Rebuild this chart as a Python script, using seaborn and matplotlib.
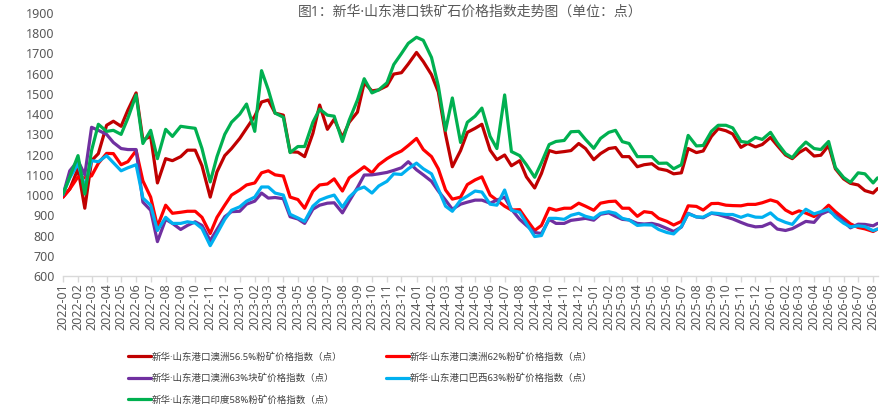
import pandas as pd
import matplotlib
matplotlib.use('Agg')
import matplotlib.pyplot as plt
import matplotlib.dates as mdates
from matplotlib.lines import Line2D
import seaborn as sns

# semi-monthly sample points, last one is the latest print
dates = list(pd.date_range('2022-01-01', periods=111, freq='SMS')) + [pd.Timestamp('2026-08-10')]

series_names = [
    '新华·山东港口澳洲56.5%粉矿价格指数（点）',
    '新华·山东港口澳洲62%粉矿价格指数（点）',
    '新华·山东港口澳洲63%块矿价格指数（点）',
    '新华·山东港口巴西63%粉矿价格指数（点）',
    '新华·山东港口印度58%粉矿价格指数（点）',
]
colors = ['#C00000', '#FF0000', '#7030A0', '#00B0F0', '#00B050']

aus_565 = [
    990, 1030, 1130, 935, 1170, 1205, 1345, 1365, 1340, 1420, 1505, 1272,
    1290, 1060, 1180, 1170, 1190, 1222, 1222, 1145, 990, 1115, 1195, 1230,
    1280, 1330, 1390, 1460, 1470, 1405, 1395, 1214, 1212, 1190, 1305, 1445,
    1325, 1375, 1285, 1360, 1410, 1555, 1515, 1520, 1540, 1598, 1605, 1648,
    1705, 1660, 1595, 1510, 1300, 1140, 1220, 1310, 1330, 1350, 1222, 1175,
    1198, 1145, 1170, 1090, 1035, 1107, 1220, 1210, 1215, 1220, 1255, 1230,
    1175, 1205, 1230, 1235, 1190, 1190, 1140, 1150, 1155, 1130, 1122, 1105,
    1110, 1230, 1210, 1218, 1290, 1328, 1318, 1302, 1236, 1255, 1238, 1250,
    1285, 1245, 1198, 1180, 1210, 1230, 1193, 1197, 1245, 1130, 1080, 1058,
    1050, 1022, 1010, 1032,
]
aus_62 = [
    990, 1030, 1090, 1085, 1095, 1157, 1206, 1205, 1150, 1165, 1220, 1070,
    990, 845, 950, 910, 915, 920, 920, 890, 810, 890, 950, 1000,
    1025, 1050, 1060, 1110, 1120, 1100, 1094, 990, 978, 935, 1018, 1050,
    1055, 1080, 1020, 1085, 1115, 1140, 1110, 1150, 1180, 1200, 1218, 1245,
    1280, 1225, 1190, 1130, 1025, 980, 990, 1052, 1075, 1090, 1000, 975,
    945, 926, 928, 880, 825, 850, 935, 925, 935, 935, 960, 945,
    925, 960, 968, 970, 935, 935, 895, 918, 913, 885, 870, 852,
    870, 947, 944, 926, 958, 959, 950, 948, 947, 954, 954, 962,
    976, 966, 926, 908, 922, 911, 894, 914, 950, 918, 885, 858,
    840, 833, 820, 832,
]
aus_63_lump = [
    1000, 1120, 1170, 1100, 1335, 1320, 1300, 1260, 1230, 1225, 1225, 965,
    925, 770, 880, 860, 830, 850, 868, 850, 775, 830, 893, 918,
    920, 955, 970, 1010, 985, 988, 982, 893, 882, 860, 930, 950,
    960, 962, 912, 970, 1037, 1099, 1100, 1105, 1112, 1122, 1135, 1165,
    1125, 1100, 1068, 1020, 975, 930, 955, 965, 975, 975, 960, 975,
    990, 930, 880, 850, 815, 810, 880, 860, 860, 875, 880, 885,
    876, 905, 912, 895, 880, 877, 860, 857, 860, 852, 835, 820,
    842, 910, 892, 888, 910, 904, 892, 882, 865, 852, 843, 845,
    862, 832, 825, 834, 852, 870, 865, 905, 922, 900, 870, 838,
    856, 855, 848, 860,
]
brazil_63 = [
    1005, 1085, 1155, 1040, 1170, 1165, 1195, 1160, 1120, 1135, 1150, 985,
    950, 825, 890, 860, 860, 868, 862, 835, 750, 810, 880, 925,
    942, 970, 990, 1040, 1040, 1010, 1000, 905, 887, 870, 945, 975,
    990, 1000, 940, 990, 1028, 1040, 1010, 1045, 1068, 1105, 1102, 1130,
    1158, 1130, 1105, 1030, 945, 920, 975, 995, 1020, 1015, 955, 950,
    1025, 925, 915, 860, 795, 800, 885, 885, 880, 900, 910, 895,
    885, 910, 918, 910, 885, 877, 850, 853, 852, 830, 815, 808,
    845, 908, 892, 891, 912, 909, 904, 904, 890, 902, 891, 890,
    912, 882, 865, 855, 895, 930, 907, 918, 930, 892, 861, 843,
    848, 844, 824, 832,
]
india_58 = [
    1005, 1090, 1195, 1005, 1220, 1350, 1315, 1320, 1300, 1380, 1495, 1255,
    1320, 1180, 1325, 1290, 1340, 1335, 1330, 1230, 1065, 1190, 1300, 1360,
    1400, 1450, 1315, 1615, 1520, 1405, 1385, 1210, 1240, 1240, 1360, 1425,
    1395, 1390, 1265, 1370, 1470, 1575, 1505, 1520, 1555, 1645, 1700, 1750,
    1780, 1765, 1680, 1540, 1320, 1480, 1260, 1360, 1390, 1430, 1290, 1230,
    1495, 1215, 1195, 1150, 1088, 1160, 1250, 1265, 1270, 1313, 1315, 1275,
    1231, 1280, 1310, 1320, 1264, 1255, 1190, 1190, 1190, 1157, 1158, 1130,
    1150, 1295, 1243, 1245, 1315, 1345, 1345, 1332, 1265, 1260, 1285, 1275,
    1310, 1258, 1205, 1185, 1228, 1262, 1230, 1225, 1265, 1136, 1087, 1063,
    1110, 1105, 1060, 1085,
]

title = '图1：新华·山东港口铁矿石价格指数走势图（单位：点）'


def build_frame():
    frames = []
    for name, vals in zip(series_names, [aus_565, aus_62, aus_63_lump, brazil_63, india_58]):
        frames.append(pd.DataFrame({'date': dates, 'value': vals, 'series': name}))
    return pd.concat(frames, ignore_index=True)


def main():
    df = build_frame()

    sns.set_theme(style='white')
    # Noto Sans first so the middle dot and digits stay narrow, CJK falls through
    plt.rcParams['font.family'] = ['Noto Sans', 'Noto Sans CJK SC', 'DejaVu Sans']
    plt.rcParams['axes.unicode_minus'] = False

    fig = plt.figure(figsize=(8.96, 4.2), dpi=100)
    ax = fig.add_axes([63 / 896, 1 - 276 / 420, (878 - 63) / 896, (276 - 13) / 420])

    sns.lineplot(data=df, x='date', y='value', hue='series', hue_order=series_names,
                 palette=colors, linewidth=2.3, legend=False, ax=ax)

    ax.set_ylim(600, 1900)
    ax.set_yticks(range(600, 2000, 100))
    ax.set_xlim(dates[0], dates[-1] + pd.Timedelta(days=1))
    ax.xaxis.set_major_locator(mdates.MonthLocator())
    ax.xaxis.set_major_formatter(mdates.DateFormatter('%Y-%m'))
    ax.set_xlabel('')
    ax.set_ylabel('')
    ax.grid(False)

    for s in ['top', 'right', 'left']:
        ax.spines[s].set_visible(False)
    ax.spines['bottom'].set_color('#D9D9D9')
    ax.spines['bottom'].set_linewidth(1)

    ax.tick_params(axis='x', bottom=True, length=4, width=1, color='#D9D9D9', pad=1.5,
                   labelsize=9, labelcolor='#595959', rotation=90)
    ax.tick_params(axis='y', left=False, length=0, pad=6, labelsize=9, labelcolor='#595959')

    fig.text(470 / 896, 1 - 12 / 420, title, ha='center', va='center',
             fontsize=10, color='#595959')

    handles = [Line2D([], [], color=c, lw=2.3) for c in colors]
    opts = dict(loc='upper left', frameon=False, fontsize=6.8, handlelength=2.4,
                handletextpad=0.15, labelspacing=1.25, borderpad=0, borderaxespad=0,
                labelcolor='#404040')
    fig.legend(handles=[handles[0], handles[2], handles[4]],
               labels=[series_names[0], series_names[2], series_names[4]],
               bbox_to_anchor=(128 / 896, 1 - 352 / 420), **opts)
    fig.legend(handles=[handles[1], handles[3]],
               labels=[series_names[1], series_names[3]],
               bbox_to_anchor=(386 / 896, 1 - 352 / 420), **opts)

    fig.savefig('out.png', dpi=100)


if __name__ == '__main__':
    main()
